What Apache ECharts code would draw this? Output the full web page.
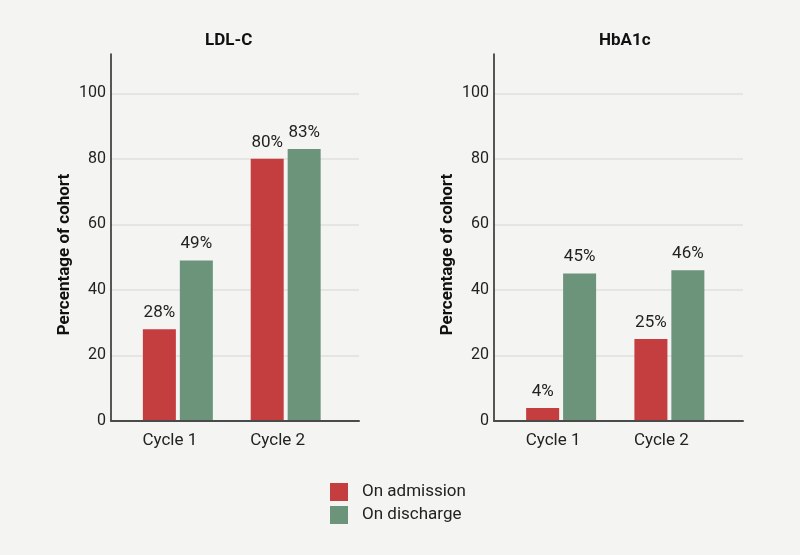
<!DOCTYPE html>
<html>
<head>
<meta charset="utf-8">
<script src="https://cdn.jsdelivr.net/npm/echarts@6/dist/echarts.min.js"></script>
<style>
  html, body { margin: 0; padding: 0; background: #f4f4f2; }
  #chart { width: 800px; height: 555px; }
</style>
</head>
<body>
<div id="chart"></div>
<script>
// categories and values
const cycles = ['Cycle 1', 'Cycle 2'];
const panelTitles = ['LDL-C', 'HbA1c'];
const seriesNames = ['On admission', 'On discharge'];
const ldlAdmission = [28, 80];
const ldlDischarge = [49, 83];
const hbaAdmission = [4, 25];
const hbaDischarge = [45, 46];
const yTicks = [0, 20, 40, 60, 80, 100];

const RED = '#c43d3f';
const GREEN = '#6b947a';
const FONT = 'Roboto';

let chart = echarts.init(document.getElementById('chart'));

function toPairs(vals) {
    return vals.map((v, i) => [i, v]);
}

function makeXAxis(gridIndex) {
    return {
        type: 'value',
        gridIndex: gridIndex,
        min: -0.62,
        max: 1.68,
        splitLine: { show: false },
        axisTick: { show: false, customValues: [0, 1] },
        axisLine: { show: true, onZero: false, lineStyle: { color: '#4a4a4a', width: 2 } },
        axisLabel: {
            customValues: [0, 1],
            formatter: function (v) { return cycles[Math.round(v)]; },
            fontFamily: FONT,
            fontSize: 17,
            color: '#222',
            margin: 11,
            padding: [0, 16, 0, 0]
        },
        z: 5
    };
}

function makeYAxis(gridIndex) {
    return {
        type: 'value',
        gridIndex: gridIndex,
        min: 0,
        max: 112,
        interval: 20,
        name: 'Percentage of cohort',
        nameLocation: 'middle',
        nameGap: 38,
        nameTextStyle: {
            fontFamily: FONT,
            fontSize: 17,
            fontWeight: 'bold',
            color: '#111',
            padding: [0, 34, 0, 0]
        },
        axisLine: { show: true, onZero: false, lineStyle: { color: '#222', width: 1.5 } },
        axisTick: { show: false, customValues: yTicks },
        axisLabel: {
            customValues: yTicks,
            fontFamily: FONT,
            fontSize: 16,
            color: '#222',
            margin: 5
        },
        splitLine: { show: true, lineStyle: { color: '#e0e0de', width: 1.5 } }
    };
}

function makeBar(name, vals, color, idx) {
    return {
        name: name,
        type: 'bar',
        xAxisIndex: idx,
        yAxisIndex: idx,
        data: toPairs(vals),
        barWidth: 33,
        barGap: '12%',
        itemStyle: { color: color },
        label: {
            show: true,
            position: 'top',
            distance: 8,
            fontFamily: FONT,
            fontSize: 17,
            color: '#222',
            formatter: function (p) { return p.value[1] + '%'; }
        }
    };
}

let option = {
    backgroundColor: '#f4f4f2',
    animation: false,
    title: [
        {
            text: panelTitles[0], left: 200, top: 27,
            textStyle: { fontFamily: FONT, fontSize: 17, fontWeight: 'bold', color: '#111' }
        },
        {
            text: panelTitles[1], left: 594, top: 27,
            textStyle: { fontFamily: FONT, fontSize: 17, fontWeight: 'bold', color: '#111' }
        }
    ],
    legend: {
        orient: 'vertical',
        left: 325,
        top: 478,
        itemWidth: 18,
        itemHeight: 18,
        itemGap: 5,
        icon: 'rect',
        data: seriesNames,
        textStyle: { fontFamily: FONT, fontSize: 17, color: '#222', padding: [0, 0, 0, 9] }
    },
    grid: [
        { left: 111, top: 54, width: 248, height: 367 },
        { left: 494, top: 54, width: 249, height: 367 }
    ],
    xAxis: [makeXAxis(0), makeXAxis(1)],
    yAxis: [makeYAxis(0), makeYAxis(1)],
    series: [
        makeBar(seriesNames[0], ldlAdmission, RED, 0),
        makeBar(seriesNames[1], ldlDischarge, GREEN, 0),
        makeBar(seriesNames[0], hbaAdmission, RED, 1),
        makeBar(seriesNames[1], hbaDischarge, GREEN, 1)
    ]
};

chart.setOption(option);
</script>
</body>
</html>
